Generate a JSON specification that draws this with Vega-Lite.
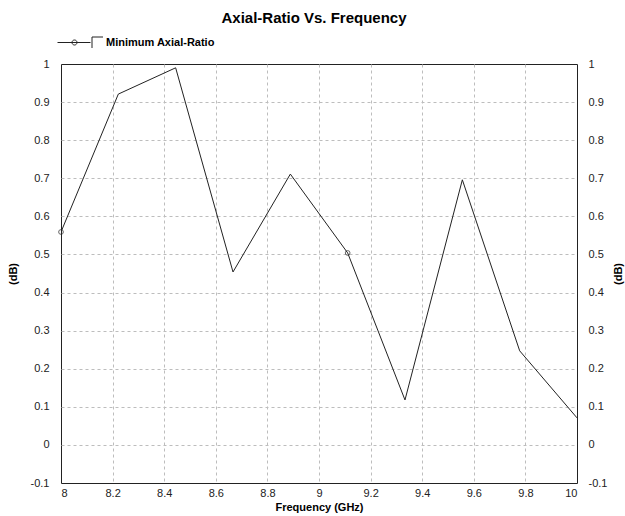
{
  "$schema": "https://vega.github.io/schema/vega-lite/v6.json",
  "width": 516,
  "height": 419,
  "autosize": {"type": "none"},
  "padding": {"left": 61, "top": 64, "right": 48, "bottom": 33},
  "background": "white",
  "title": {"text": "Axial-Ratio Vs. Frequency", "font": "Liberation Sans", "fontSize": 15, "fontWeight": "bold", "color": "#000", "offset": 6, "anchor": "middle", "dx": -5},
  "config": {
    "view": {"stroke": "#222", "strokeWidth": 1},
    "axis": {"labelFont": "Liberation Sans", "labelFontSize": 11, "labelColor": "#222", "titleFont": "Liberation Sans", "titleFontSize": 11, "titleFontWeight": "bold", "titleColor": "#000", "domain": false, "ticks": false, "gridColor": "#bdbdbd", "gridDash": [3, 3], "gridWidth": 1}
  },
  "data": {"values": [
    {"f": 8.0, "ar": 0.559, "m": 1, "s": "Minimum Axial-Ratio"},
    {"f": 8.2222, "ar": 0.921, "m": 0, "s": "Minimum Axial-Ratio"},
    {"f": 8.4444, "ar": 0.99, "m": 0, "s": "Minimum Axial-Ratio"},
    {"f": 8.6667, "ar": 0.454, "m": 0, "s": "Minimum Axial-Ratio"},
    {"f": 8.8889, "ar": 0.711, "m": 0, "s": "Minimum Axial-Ratio"},
    {"f": 9.1111, "ar": 0.504, "m": 1, "s": "Minimum Axial-Ratio"},
    {"f": 9.3333, "ar": 0.118, "m": 0, "s": "Minimum Axial-Ratio"},
    {"f": 9.5556, "ar": 0.696, "m": 0, "s": "Minimum Axial-Ratio"},
    {"f": 9.7778, "ar": 0.247, "m": 0, "s": "Minimum Axial-Ratio"},
    {"f": 10.0, "ar": 0.071, "m": 0, "s": "Minimum Axial-Ratio"}
  ]},
  "resolve": {"axis": {"y": "independent"}},
  "layer": [
    {
      "mark": {"type": "line", "strokeWidth": 1, "color": "#222", "clip": true},
      "encoding": {
        "x": {"field": "f", "type": "quantitative", "scale": {"domain": [8, 10], "nice": false, "zero": false},
              "axis": {"title": "Frequency (GHz)", "values": [8, 8.2, 8.4, 8.6, 8.8, 9, 9.2, 9.4, 9.6, 9.8, 10], "labelExpr": "'' + datum.value", "labelPadding": 4, "titlePadding": 3, "grid": true,
                       "gridOpacity": {"condition": {"test": "datum.value == 8 || datum.value == 10", "value": 0}, "value": 1}}},
        "y": {"field": "ar", "type": "quantitative", "scale": {"domain": [-0.1, 1], "nice": false, "zero": false},
              "axis": {"orient": "left", "title": "(dB)", "values": [-0.1, 0, 0.1, 0.2, 0.3, 0.4, 0.5, 0.6, 0.7, 0.8, 0.9, 1], "labelExpr": "'' + datum.value", "labelPadding": 12, "titlePadding": 12, "grid": true,
                       "gridOpacity": {"condition": {"test": "datum.value == -0.1 || datum.value == 1", "value": 0}, "value": 1}}},
        "color": {"field": "s", "type": "nominal", "scale": {"range": ["#222222"]},
                  "legend": {"title": null, "orient": "none", "legendX": 3, "legendY": -32, "padding": 0,
                             "symbolType": "M-1.7,0H1.6M0.25,0A0.25,0.25 0 1,1 -0.25,0A0.25,0.25 0 1,1 0.25,0M1.75,0.55V-0.55H2.85",
                             "symbolSize": 400, "symbolStrokeWidth": 1, "symbolFillColor": "transparent", "symbolStrokeColor": "#222",
                             "labelFont": "Liberation Sans", "labelFontSize": 11, "labelFontWeight": "bold", "labelColor": "#000", "labelOffset": 21}}
      }
    },
    {
      "transform": [{"filter": "datum.m == 1"}],
      "mark": {"type": "point", "shape": "circle", "filled": false, "size": 22, "strokeWidth": 1, "color": "#222", "clip": false},
      "encoding": {
        "x": {"field": "f", "type": "quantitative"},
        "y": {"field": "ar", "type": "quantitative",
              "axis": {"orient": "right", "title": "(dB)", "values": [-0.1, 0, 0.1, 0.2, 0.3, 0.4, 0.5, 0.6, 0.7, 0.8, 0.9, 1], "labelExpr": "'' + datum.value", "labelPadding": 11, "titlePadding": 17, "titleAngle": -90, "grid": false}}
      }
    }
  ]
}
